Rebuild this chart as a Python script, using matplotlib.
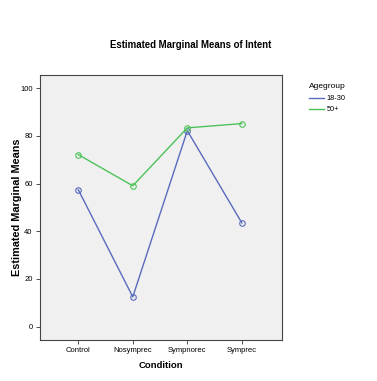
import matplotlib
matplotlib.use("Agg")
from matplotlib import pyplot as plt

plt.rcParams['font.family'] = ['Liberation Sans', 'DejaVu Sans']

conditions = ["Control", "Nosymprec", "Sympnorec", "Symprec"]
young = [57.5, 12.5, 82.2, 43.5]
old = [72.2, 59.1, 83.4, 85.2]
groups = ["18-30", "50+"]

fig = plt.figure(figsize=(3.77, 3.81), dpi=100)
ax = fig.add_axes([39.5 / 377, 1 - 340 / 381, (281.7 - 39.5) / 377, (340 - 74.7) / 381])
ax.set_facecolor("#f0f0f0")

x = range(len(conditions))
ax.plot(x, young, color="#5a6bbd", lw=1, marker="o", ms=4, mfc="none", mew=0.8, label=groups[0])
ax.plot(x, old, color="#4cc35a", lw=1, marker="o", ms=4, mfc="none", mew=0.8, label=groups[1])

ax.set_xlim(-0.71, 3.73)
ax.set_ylim(-5.6, 105.7)
ax.set_xticks(list(x))
ax.set_xticklabels(conditions)
ax.set_yticks([0, 20, 40, 60, 80, 100])
ax.tick_params(labelsize=5.5, length=3, width=0.6, color="#333333", pad=2)
for s in ax.spines.values():
    s.set_color("#444444")
    s.set_linewidth(0.8)

ax.set_xlabel("Condition", fontsize=6.8, fontweight="bold")
ax.xaxis.set_label_coords(0.5, -(361 - 340) / (340 - 74.7))
ax.set_ylabel("Estimated Marginal Means", fontsize=7.8, fontweight="bold")
ax.yaxis.set_label_coords(-(39.5 - 22) / (281.7 - 39.5), 0.5)
fig.text(0.505, 1 - 45 / 381, "Estimated Marginal Means of Intent", fontsize=6.9,
         fontweight="bold", ha="center", va="center")

leg = ax.legend(loc="upper left", bbox_to_anchor=(1.085, 0.993), frameon=False, fontsize=5.3,
                title="Agegroup", title_fontsize=6.0, handlelength=2.0, handletextpad=0.4,
                labelspacing=0.55, alignment="left")
leg._legend_box.sep = 3.5
for h in leg.legend_handles:
    h.set_marker("")

plt.savefig("out.png")
